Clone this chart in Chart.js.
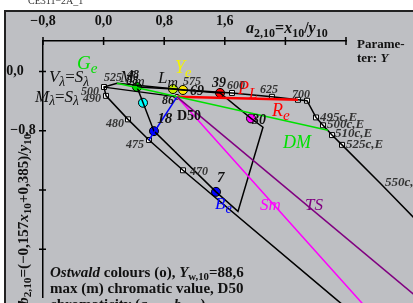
<!DOCTYPE html>
<html>
<head>
<meta charset="utf-8">
<script src="https://cdn.jsdelivr.net/npm/chart.js@4.4.1/dist/chart.umd.min.js"></script>
<style>
  html, body { margin: 0; padding: 0; background: #fff; }
  canvas { display: block; }
</style>
</head>
<body>
<canvas id="chart" width="413" height="303"></canvas>
<script>
'use strict';

// axis ticks
var xTicks = [-0.8, 0, 0.8, 1.6, 2.4, 3.2];
var xTickLabels = ['\u22120,8', '0,0', '0,8', '1,6', '', ''];
var yTicks = [0, -0.8, -1.6, -2.4];
var yTickLabels = ['0,0', '\u22120,8', '', ''];

// spectral locus, 470 .. 500 .. 700, then the complementary (c,E) branch
var locusX = [3.650, 3.028, 1.048, 0.599, 0.322, 0.032, 0.005, 0.177, 1.075, 1.695, 2.222, 2.566, 2.685, 2.804, 2.896, 3.015, 3.147, 3.662, 4.441];
var locusY = [-3.572, -3.038, -1.334, -0.925, -0.647, -0.330, -0.211, -0.159, -0.251, -0.291, -0.343, -0.383, -0.396, -0.621, -0.727, -0.859, -0.991, -1.519, -2.338];

// white square marks on the locus
var markX = [0.005, 0.032, 0.322, 0.599, 1.048, 1.695, 2.222, 2.566, 2.685, 2.804, 2.896, 3.015, 3.147, 3.662];
var markY = [-0.211, -0.330, -0.647, -0.925, -1.334, -0.291, -0.343, -0.383, -0.396, -0.621, -0.727, -0.859, -0.991, -1.519];

// Ostwald colour outline
var ostX = [0.441, 0.916, 1.048, 1.537, 1.946, 2.104, 1.774, 1.484, 0.665, 0.441];
var ostY = [-0.211, -0.238, -0.251, -0.291, -0.634, -0.753, -1.889, -1.625, -0.806, -0.211];

// 500 nm to the white point
var linkX = [0.005, 0.969];
var linkY = [-0.211, -0.343];

// chromatic points (Ge, Lm, Ye, 39, 30, 7, 18, cyan)
var dotX = [0.441, 0.916, 1.048, 1.537, 1.946, 1.484, 0.665, 0.520];
var dotY = [-0.211, -0.238, -0.251, -0.291, -0.634, -1.625, -0.806, -0.423];
var dotColors = ['#00e000', '#c8f000', '#ffe800', '#ff0000', '#ff00ff', '#0000ff', '#0000ff', '#00ffff'];

// white point D50
var whiteX = [0.969];
var whiteY = [-0.343];

// hue lines from the white point
var dmX = [0.177, 2.962], dmY = [-0.159, -0.793];
var reX = [0.969, 2.566], reY = [-0.343, -0.383];
var beX = [0.969, 0.599], beY = [-0.343, -0.925];
var smX = [0.969, 3.874], smY = [-0.343, -3.653];
var tsX = [0.969, 4.441], tsY = [-0.343, -3.303];

var pts = function (xs, ys) {
  return xs.map(function (x, i) { return { x: x, y: ys[i] }; });
};

var SERIF = '"Liberation Serif", "Times New Roman", serif';
var fontOf = function (size, bold, italic) {
  return (italic ? 'italic ' : '') + (bold ? 'bold ' : '') + size + 'px ' + SERIF;
};

// text pieces: {t, i (italic), sub}
var drawRich = function (ctx, parts, x, y, o) {
  var subK = o.subK || 0.7;
  var w = 0;
  parts.forEach(function (p) {
    ctx.font = fontOf(p.sub ? o.size * subK : o.size, o.bold, p.i);
    w += ctx.measureText(p.t).width;
  });
  var cx = o.align === 'right' ? x - w : (o.align === 'center' ? x - w / 2 : x);
  ctx.fillStyle = o.color;
  ctx.textAlign = 'left';
  ctx.textBaseline = 'alphabetic';
  parts.forEach(function (p) {
    ctx.font = fontOf(p.sub ? o.size * subK : o.size, o.bold, p.i);
    ctx.fillText(p.t, cx, y + (p.sub ? o.size * 0.22 : 0));
    cx += ctx.measureText(p.t).width;
  });
};

var I = function (t) { return { t: t, i: true }; };
var N = function (t) { return { t: t }; };
var S = function (t, it) { return { t: t, sub: true, i: !!it }; };

// annotations anchored in data units (centre y)
var labels = [
  { p: [I('G'), S('e', 1)], x: -0.351, y: 0.119, size: 19, subK: 0.8, color: '#00e000' },
  { p: [I('Y'), S('e', 1)], x: 0.943, y: 0.066, size: 18, subK: 0.8, color: '#f4f400' },
  { p: [I('L'), S('m', 1)], x: 0.718, y: -0.079, size: 17, subK: 0.85, color: '#111' },
  { p: [I('M'), S('m', 1)], x: 0.217, y: -0.066, size: 17, subK: 0.85, color: '#111' },
  { p: [I('P'), S('L', 1)], x: 1.774, y: -0.225, size: 18, subK: 0.85, color: '#ff0000' },
  { p: [I('R'), S('e', 1)], x: 2.222, y: -0.515, size: 18, subK: 0.85, color: '#ff0000' },
  { p: [I('DM')], x: 2.368, y: -0.951, size: 18, color: '#00e000' },
  { p: [I('Sm')], x: 2.065, y: -1.797, size: 17, color: '#ff00ff' },
  { p: [I('TS')], x: 2.659, y: -1.797, size: 17, color: '#800080' },
  { p: [I('B'), S('e', 1)], x: 1.471, y: -1.783, size: 17, subK: 0.85, color: '#0000ff' },
  { p: [I('V'), S('\u03bb', 1), N('='), I('S'), S('\u03bb', 1)], x: -0.721, y: -0.066, size: 17, subK: 0.8, color: '#111' },
  { p: [I('M'), S('\u03bb', 1), N('='), I('S'), S('\u03bb', 1)], x: -0.906, y: -0.330, size: 17, subK: 0.8, color: '#111' },
  { p: [N('D50')], x: 0.969, y: -0.594, size: 14, bold: true, color: '#111' },
  { p: [I('18')], x: 0.707, y: -0.634, size: 15, bold: true, color: '#111' },
  { p: [I('7')], x: 1.497, y: -1.427, size: 15, bold: true, color: '#111' },
  { p: [I('30')], x: 1.959, y: -0.647, size: 14, bold: true, color: '#111' },
  { p: [I('39')], x: 1.431, y: -0.145, size: 14, bold: true, color: '#111' },
  { p: [I('69')], x: 1.141, y: -0.251, size: 14, bold: true, color: '#111' },
  { p: [I('48')], x: 0.310, y: -0.040, size: 12, bold: true, color: '#111' },
  { p: [I('88')], x: 0.300, y: -0.120, size: 12, bold: true, color: '#111' },
  { p: [I('86')], x: 0.771, y: -0.383, size: 12, bold: true, color: '#111' },
  { p: [I('525')], x: 0.005, y: -0.079, size: 12, bold: true, color: '#333' },
  { p: [I('500')], x: -0.061, y: -0.264, size: 12, bold: true, color: '#333', align: 'right' },
  { p: [I('490')], x: -0.034, y: -0.357, size: 12, bold: true, color: '#333', align: 'right' },
  { p: [I('480')], x: 0.269, y: -0.700, size: 12, bold: true, color: '#333', align: 'right' },
  { p: [I('475')], x: 0.533, y: -0.978, size: 12, bold: true, color: '#333', align: 'right' },
  { p: [I('470')], x: 1.141, y: -1.347, size: 12, bold: true, color: '#333' },
  { p: [I('575')], x: 1.048, y: -0.132, size: 12, bold: true, color: '#333' },
  { p: [I('600')], x: 1.629, y: -0.185, size: 12, bold: true, color: '#333' },
  { p: [I('625')], x: 2.065, y: -0.238, size: 12, bold: true, color: '#333' },
  { p: [I('700')], x: 2.487, y: -0.304, size: 12, bold: true, color: '#333' },
  { p: [I('495c,E')], x: 2.858, y: -0.608, size: 13, bold: true, color: '#333' },
  { p: [I('500c,E')], x: 2.949, y: -0.700, size: 13, bold: true, color: '#333' },
  { p: [I('510c,E')], x: 3.055, y: -0.832, size: 13, bold: true, color: '#333' },
  { p: [I('525c,E')], x: 3.200, y: -0.978, size: 13, bold: true, color: '#333' },
  { p: [I('550c,E')], x: 3.714, y: -1.480, size: 13, bold: true, color: '#333' }
];

var decor = {
  id: 'decor',
  beforeDraw: function (chart) {
    var ctx = chart.ctx;
    ctx.save();
    ctx.fillStyle = '#fff';
    ctx.fillRect(0, 0, chart.width, chart.height);
    ctx.fillStyle = '#bebfc3';
    ctx.fillRect(5, 11, chart.width - 5, chart.height - 11);
    ctx.strokeStyle = '#222';
    ctx.lineWidth = 2;
    ctx.beginPath();
    ctx.moveTo(5, chart.height + 2);
    ctx.lineTo(5, 11);
    ctx.lineTo(chart.width + 2, 11);
    ctx.stroke();
    ctx.fillStyle = '#333';
    ctx.font = fontOf(10, false, false);
    ctx.textBaseline = 'alphabetic';
    ctx.fillText('CE311\u22122A_1', 28, 4);
    ctx.restore();
  },
  afterDatasetsDraw: function (chart) {
    var ctx = chart.ctx;
    var xs = chart.scales.x, ys = chart.scales.y;
    var area = chart.chartArea;
    ctx.save();

    // tick marks crossing the axes
    ctx.strokeStyle = '#000';
    ctx.lineWidth = 1.5;
    ctx.beginPath();
    xTicks.forEach(function (v) {
      var px = xs.getPixelForValue(v);
      ctx.moveTo(px, area.top - 4);
      ctx.lineTo(px, area.top + 4);
    });
    yTicks.forEach(function (v) {
      var py = ys.getPixelForValue(v);
      ctx.moveTo(area.left - 4, py);
      ctx.lineTo(area.left + 3, py);
    });
    ctx.stroke();

    // y axis title, rotated
    ctx.save();
    ctx.translate(area.left - 20, ys.getPixelForValue(-0.84));
    ctx.rotate(-Math.PI / 2);
    drawRich(ctx, [I('b'), S('2,10'), N('=(\u22120,157'), I('x'), S('10'), N('+0,385)/'), I('y'), S('10')],
      0, 5, { size: 15, bold: true, color: '#111', align: 'right', subK: 0.75 });
    ctx.restore();

    // y tick labels
    ctx.font = fontOf(14, true, false);
    ctx.fillStyle = '#111';
    ctx.textAlign = 'center';
    ctx.textBaseline = 'middle';
    ctx.fillText(yTickLabels[0], 15, ys.getPixelForValue(yTicks[0]));
    ctx.fillText(yTickLabels[1], 23, ys.getPixelForValue(yTicks[1]));

    // x axis title
    drawRich(ctx, [I('a'), S('2,10'), N('='), I('x'), S('10'), N('/'), I('y'), S('10')],
      xs.getPixelForValue(1.88), 33, { size: 16, bold: true, color: '#111', subK: 0.75 });

    // parameter note
    drawRich(ctx, [N('Parame-')], area.right + 11, 48, { size: 13, bold: true, color: '#111' });
    drawRich(ctx, [N('ter: '), I('Y')], area.right + 11, 62, { size: 13, bold: true, color: '#111' });

    // annotations
    labels.forEach(function (l) {
      var px = xs.getPixelForValue(l.x);
      var py = ys.getPixelForValue(l.y) + l.size * 0.34;
      drawRich(ctx, l.p, px, py, { size: l.size, bold: l.bold, color: l.color, align: l.align || 'left', subK: l.subK });
    });

    // bottom legend text
    drawRich(ctx, [I('Ostwald'), N(' colours (o), '), I('Y'), S('w,10'), N('=88,6')], 50, 277, { size: 15, bold: true, color: '#111', subK: 0.72 });
    drawRich(ctx, [N('max (m) chromatic value, D50')], 50, 293, { size: 15, bold: true, color: '#111' });
    drawRich(ctx, [N('chromaticity ('), I('a'), S('2,10'), N(', '), I('b'), S('2,10'), N(')')], 50, 309, { size: 15, bold: true, color: '#111', subK: 0.72 });

    ctx.restore();
  }
};

var lineSet = function (xs, ys, color, width) {
  return {
    data: pts(xs, ys),
    showLine: true,
    borderColor: color,
    borderWidth: width,
    pointRadius: 0,
    fill: false,
    tension: 0,
    clip: false
  };
};

var ctx = document.getElementById('chart').getContext('2d');

var chart = new Chart(ctx, {
  type: 'scatter',
  data: {
    datasets: [
      lineSet(tsX, tsY, '#800080', 1.5),
      lineSet(smX, smY, '#ff00ff', 1.5),
      lineSet(dmX, dmY, '#00e000', 1.5),
      lineSet(beX, beY, '#0000ff', 1.5),
      lineSet(reX, reY, '#ff0000', 2.5),
      lineSet(linkX, linkY, '#000', 1.2),
      lineSet(locusX, locusY, '#000', 1.5),
      lineSet(ostX, ostY, '#000', 1.5),
      {
        data: pts(markX, markY),
        pointStyle: 'rect',
        pointRadius: 3.5,
        pointBackgroundColor: '#fff',
        pointBorderColor: '#000',
        pointBorderWidth: 1,
        clip: false
      },
      {
        data: pts(dotX, dotY),
        pointRadius: 4.5,
        pointBackgroundColor: dotColors,
        pointBorderColor: '#000',
        pointBorderWidth: 1,
        clip: false
      },
      {
        data: pts(whiteX, whiteY),
        pointRadius: 2.5,
        pointBackgroundColor: '#f0f0d0',
        pointBorderColor: '#000',
        pointBorderWidth: 1,
        clip: false
      }
    ]
  },
  options: {
    responsive: false,
    animation: false,
    events: [],
    layout: { padding: { left: 4, top: 10, right: 67, bottom: 0 } },
    plugins: {
      legend: { display: false },
      tooltip: { enabled: false }
    },
    scales: {
      x: {
        type: 'linear',
        position: 'top',
        min: -0.8,
        max: 3.2,
        afterBuildTicks: function (s) { s.ticks = xTicks.map(function (v) { return { value: v }; }); },
        afterFit: function (s) { s.height = 31; },
        ticks: {
          autoSkip: false,
          maxRotation: 0,
          padding: 3,
          color: '#111',
          font: { family: SERIF, size: 14, weight: 'bold' },
          callback: function (v, i) { return xTickLabels[i]; }
        },
        grid: { display: false },
        border: { display: true, color: '#000', width: 1.5 }
      },
      y: {
        type: 'linear',
        position: 'left',
        min: -3.05,
        max: 0.41,
        afterBuildTicks: function (s) { s.ticks = yTicks.map(function (v) { return { value: v }; }); },
        afterFit: function (s) { s.width = 39; },
        ticks: { display: false },
        grid: { display: false },
        border: { display: true, color: '#000', width: 1.5 }
      }
    }
  },
  plugins: [decor]
});
</script>
</body>
</html>
